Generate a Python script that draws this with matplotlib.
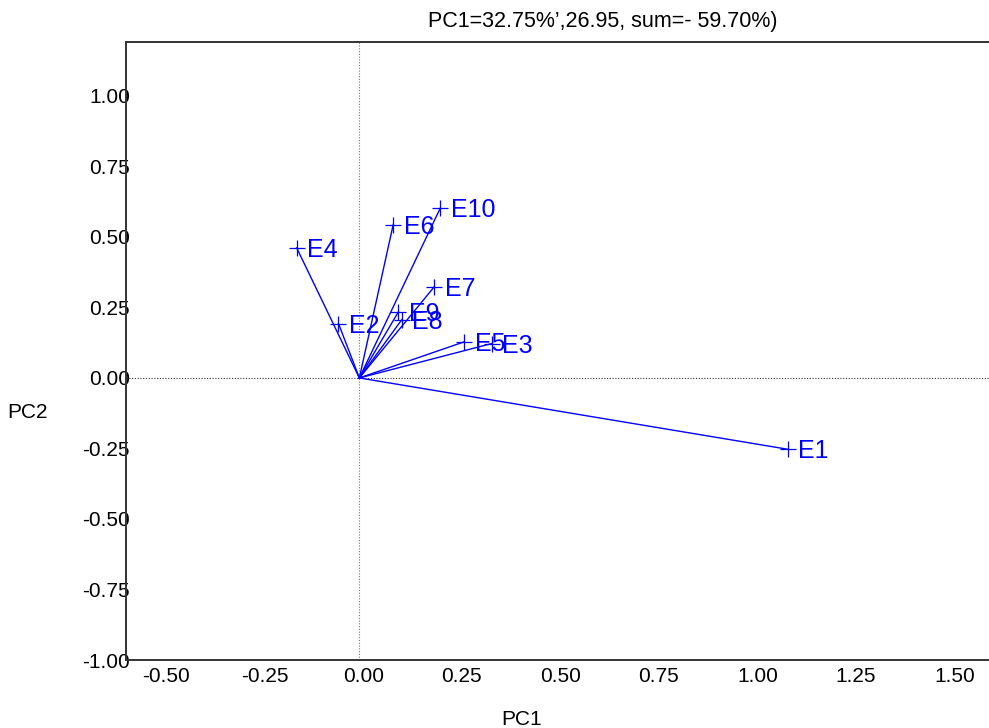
import matplotlib
matplotlib.use("Agg")
import matplotlib.pyplot as plt
import matplotlib.transforms as mtransforms

plt.rcParams['font.family'] = ['Liberation Sans', 'DejaVu Sans']

# PCA loadings of the environments on the first two components
env_labels = ['E1', 'E2', 'E3', 'E4', 'E5', 'E6', 'E7', 'E8', 'E9', 'E10']
pc1_scores = [1.088, -0.053, 0.336, -0.159, 0.266, 0.086, 0.190, 0.108, 0.099, 0.205]
pc2_scores = [-0.253, 0.193, 0.122, 0.461, 0.128, 0.544, 0.323, 0.207, 0.234, 0.601]

x_ticks = [-0.50, -0.25, 0.00, 0.25, 0.50, 0.75, 1.00, 1.25, 1.50]
y_ticks = [-1.00, -0.75, -0.50, -0.25, 0.00, 0.25, 0.50, 0.75, 1.00]

title_text = "PC1=32.75%\u2019,26.95, sum=- 59.70%)"

vec_color = '#0000ff'

fig = plt.figure(figsize=(9.89, 7.28), dpi=100)
ax = fig.add_axes([0.1271, 0.0934, 0.8729, 0.8489])

ax.set_xlim(-0.593, 1.598)
ax.set_ylim(-1.0, 1.191)

# reference lines through the origin
ax.axvline(0, color='#777777', lw=0.8, ls=(0, (1, 1.5)), zorder=1)
ax.axhline(0, color='#333333', lw=0.8, ls=(0, (1, 1.5)), zorder=1)

# vectors from the origin to each environment
for x, y, name in zip(pc1_scores, pc2_scores, env_labels):
    ax.plot([0, x], [0, y], color=vec_color, lw=1.0, zorder=3)
    ax.plot([x], [y], marker='+', ms=11, mew=0.9, color=vec_color,
            zorder=4, linestyle='none')
    ax.annotate(name, (x, y), xytext=(7.5, -6.5), textcoords='offset points',
                ha='left', va='baseline', fontsize=18, color=vec_color,
                zorder=5)

# frame
for side in ('left', 'top', 'bottom'):
    ax.spines[side].set_color('#333333')
    ax.spines[side].set_linewidth(1.4)
ax.spines['right'].set_visible(False)

ax.set_xticks(x_ticks)
ax.set_xticklabels([f"{v:.2f}" for v in x_ticks])
ax.set_yticks(y_ticks)
ax.set_yticklabels([f"{v:.2f}" for v in y_ticks])
ax.tick_params(axis='x', length=0, pad=5, labelsize=15, colors='black')
ax.tick_params(axis='y', length=0, pad=-3, labelsize=15, colors='black')

# x tick labels sit slightly to the right of their positions
shift = mtransforms.ScaledTranslation(4 / 100, 0, fig.dpi_scale_trans)
for lbl in ax.get_xticklabels():
    lbl.set_transform(lbl.get_transform() + shift)

fig.text(0.6097, 0.9705, title_text, ha='center', va='center', fontsize=15.5)
fig.text(0.527, 0.0115, 'PC1', ha='center', va='center', fontsize=15)
fig.text(0.0283, 0.434, 'PC2', ha='center', va='center', fontsize=15)

fig.savefig('out.png', dpi=100)
